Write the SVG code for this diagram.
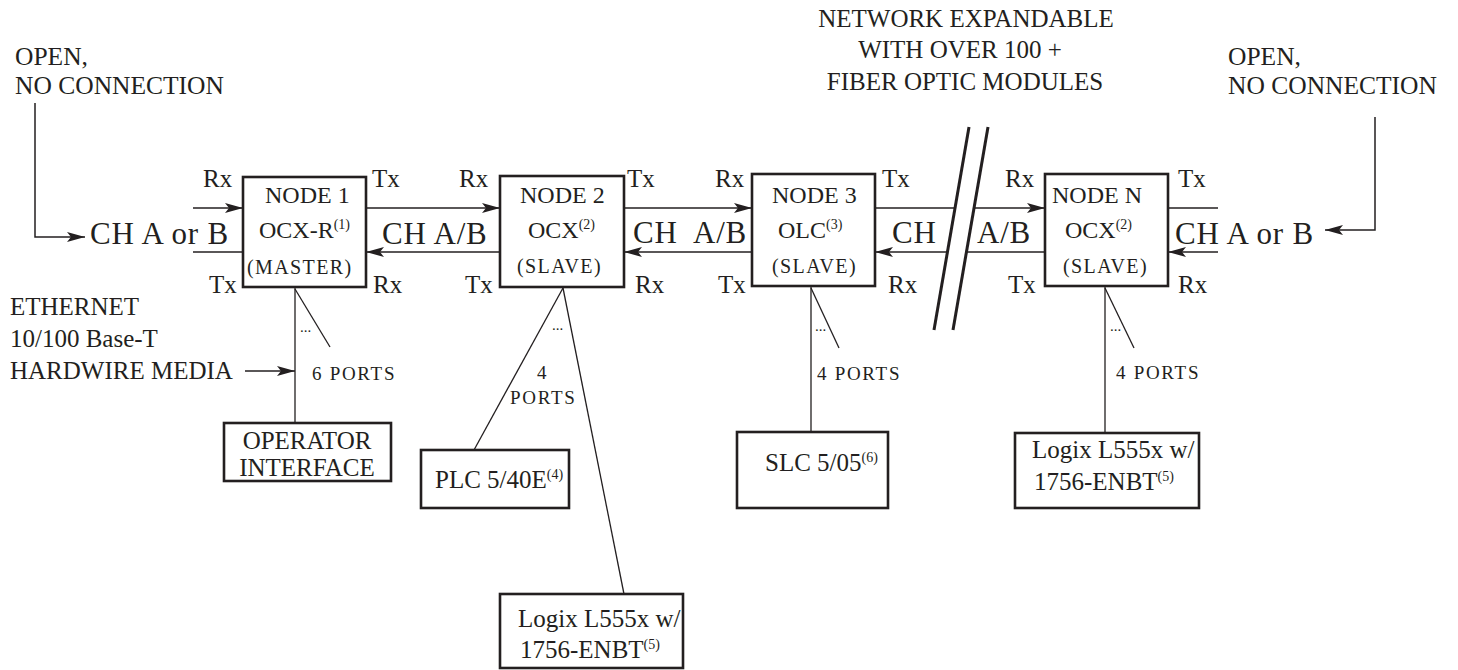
<svg xmlns="http://www.w3.org/2000/svg" width="1458" height="670" viewBox="0 0 1458 670">
<style>
text { font-family: "Liberation Serif", "Times New Roman", serif; fill: #231f20; }
.lbl { font-size: 25px; }
.hd { font-size: 25.5px; }
.ch { font-size: 31px; letter-spacing: 0.8px; }
.io { font-size: 25px; }
.nd { font-size: 24px; }
.role { font-size: 20px; letter-spacing: 1.4px; }
.ports { font-size: 19px; letter-spacing: 1.7px; }
.dots { font-size: 15px; }
.box { fill: #ffffff; stroke: #231f20; stroke-width: 2.6; }
.wire { fill: none; stroke: #231f20; stroke-width: 1.5; }
.tap { fill: none; stroke: #231f20; stroke-width: 1.3; }
.brk { fill: none; stroke: #231f20; stroke-width: 3; }
</style>
<defs>
<marker id="arr" viewBox="0 0 18 10" refX="18" refY="5" markerWidth="18" markerHeight="10" markerUnits="userSpaceOnUse" orient="auto">
<path d="M0,0 L18,5 L0,10 L4,5 z" fill="#231f20"/>
</marker>
</defs>
<rect x="0" y="0" width="1458" height="670" fill="#ffffff"/>

<!-- fiber ring links, taps and open ends -->
<g id="connectors">
<path class="wire" d="M35,103 V237 H85" marker-end="url(#arr)"/>
<path class="wire" d="M1375,117 V230 H1325" marker-end="url(#arr)"/>
<path class="wire" d="M193,208 H243" marker-end="url(#arr)"/>
<path class="wire" d="M193,252 H243"/>
<path class="wire" d="M366,208 H500" marker-end="url(#arr)"/>
<path class="wire" d="M500,252 H366" marker-end="url(#arr)"/>
<path class="wire" d="M624,208 H752" marker-end="url(#arr)"/>
<path class="wire" d="M752,252 H624" marker-end="url(#arr)"/>
<path class="wire" d="M875,208 H955"/>
<path class="wire" d="M974,208 H1045" marker-end="url(#arr)"/>
<path class="wire" d="M947,252 H875" marker-end="url(#arr)"/>
<path class="wire" d="M1045,252 H967"/>
<path class="wire" d="M1168,208 H1218"/>
<path class="wire" d="M1218,252 H1168" marker-end="url(#arr)"/>
<path class="wire" d="M245,371 H295" marker-end="url(#arr)"/>
<path class="tap" d="M295,287 V423"/>
<path class="tap" d="M295,289 L330,347"/>
<path class="tap" d="M563,288 L474,450"/>
<path class="tap" d="M563,288 L624,594"/>
<path class="tap" d="M811,286 V432"/>
<path class="tap" d="M811,288 L839,348"/>
<path class="tap" d="M1105,286 V433"/>
<path class="tap" d="M1105,288 L1134,348"/>
<path class="brk" d="M969,127 L934,330"/>
<path class="brk" d="M988,127 L953,330"/>
</g>

<!-- channel labels -->
<g id="channel-labels">
<text class="ch" x="90" y="244">CH A or B</text>
<text class="ch" x="382" y="244">CH A/B</text>
<text class="ch" x="633" y="243">CH</text>
<text class="ch" x="693" y="243">A/B</text>
<text class="ch" x="892" y="243">CH</text>
<text class="ch" x="977" y="243">A/B</text>
<text class="ch" x="1175" y="244">CH A or B</text>
</g>

<g id="open-left">
<text class="hd" x="15" y="65">OPEN,</text>
<text class="hd" x="15" y="94">NO CONNECTION</text>
</g>
<g id="open-right">
<text class="hd" x="1228" y="65">OPEN,</text>
<text class="hd" x="1228" y="94">NO CONNECTION</text>
</g>
<g id="expand-note">
<text class="lbl" x="966" y="27" text-anchor="middle">NETWORK EXPANDABLE</text>
<text class="lbl" x="960" y="58" text-anchor="middle">WITH OVER 100 +</text>
<text class="lbl" x="965" y="90" text-anchor="middle">FIBER OPTIC MODULES</text>
</g>
<g id="ethernet-note">
<text class="lbl" x="10" y="315">ETHERNET</text>
<text class="lbl" x="10" y="347">10/100 Base-T</text>
<text class="lbl" x="10" y="379">HARDWIRE MEDIA</text>
</g>

<g id="node1">
<rect class="box" x="243" y="177" width="123" height="110"/>
<text class="nd" x="265" y="203">NODE 1</text>
<text class="nd" x="259" y="238">OCX-R<tspan font-size="14" dy="-9">(1)</tspan></text>
<text class="role" x="247" y="274">(MASTER)</text>
<text class="io" x="203" y="187">Rx</text>
<text class="io" x="372" y="187">Tx</text>
<text class="io" x="209" y="293">Tx</text>
<text class="io" x="373" y="293">Rx</text>
<text class="dots" x="300" y="332">...</text>
<text class="ports" x="312" y="380">6 PORTS</text>
</g>

<g id="node2">
<rect class="box" x="500" y="176" width="124" height="111"/>
<text class="nd" x="520" y="203">NODE 2</text>
<text class="nd" x="528" y="238">OCX<tspan font-size="14" dy="-9">(2)</tspan></text>
<text class="role" x="517" y="273">(SLAVE)</text>
<text class="io" x="459" y="187">Rx</text>
<text class="io" x="627" y="187">Tx</text>
<text class="io" x="465" y="293">Tx</text>
<text class="io" x="635" y="293">Rx</text>
<text class="dots" x="552" y="330">...</text>
<text class="ports" x="537" y="379">4</text>
<text class="ports" x="510" y="404">PORTS</text>
</g>

<g id="node3">
<rect class="box" x="752" y="174" width="123" height="112"/>
<text class="nd" x="772" y="203">NODE 3</text>
<text class="nd" x="778" y="238">OLC<tspan font-size="14" dy="-9">(3)</tspan></text>
<text class="role" x="772" y="273">(SLAVE)</text>
<text class="io" x="715" y="187">Rx</text>
<text class="io" x="882" y="187">Tx</text>
<text class="io" x="718" y="293">Tx</text>
<text class="io" x="888" y="293">Rx</text>
<text class="dots" x="815" y="331">...</text>
<text class="ports" x="817" y="380">4 PORTS</text>
</g>

<g id="nodeN">
<rect class="box" x="1045" y="174" width="123" height="112"/>
<text class="nd" x="1052" y="203">NODE N</text>
<text class="nd" x="1065" y="238">OCX<tspan font-size="14" dy="-9">(2)</tspan></text>
<text class="role" x="1063" y="273">(SLAVE)</text>
<text class="io" x="1005" y="187">Rx</text>
<text class="io" x="1178" y="187">Tx</text>
<text class="io" x="1008" y="293">Tx</text>
<text class="io" x="1178" y="293">Rx</text>
<text class="dots" x="1110" y="331">...</text>
<text class="ports" x="1116" y="379">4 PORTS</text>
</g>

<g id="operator-interface">
<rect class="box" x="224" y="423" width="167" height="58"/>
<text class="lbl" x="307" y="449" text-anchor="middle">OPERATOR</text>
<text class="lbl" x="307" y="476" text-anchor="middle">INTERFACE</text>
</g>

<g id="plc-5-40e">
<rect class="box" x="421" y="450" width="148" height="58"/>
<text class="lbl" x="435" y="488">PLC 5/40E<tspan font-size="14" dy="-9">(4)</tspan></text>
</g>

<g id="logix-node2">
<rect class="box" x="500" y="594" width="183" height="74"/>
<text class="lbl" x="518" y="627">Logix L555x w/</text>
<text class="lbl" x="520" y="658">1756-ENBT<tspan font-size="14" dy="-9">(5)</tspan></text>
</g>

<g id="slc-5-05">
<rect class="box" x="737" y="432" width="151" height="76"/>
<text class="lbl" x="765" y="471">SLC 5/05<tspan font-size="14" dy="-9">(6)</tspan></text>
</g>

<g id="logix-nodeN">
<rect class="box" x="1015" y="433" width="184" height="75"/>
<text class="lbl" x="1032" y="458">Logix L555x w/</text>
<text class="lbl" x="1034" y="490">1756-ENBT<tspan font-size="14" dy="-9">(5)</tspan></text>
</g>
</svg>
